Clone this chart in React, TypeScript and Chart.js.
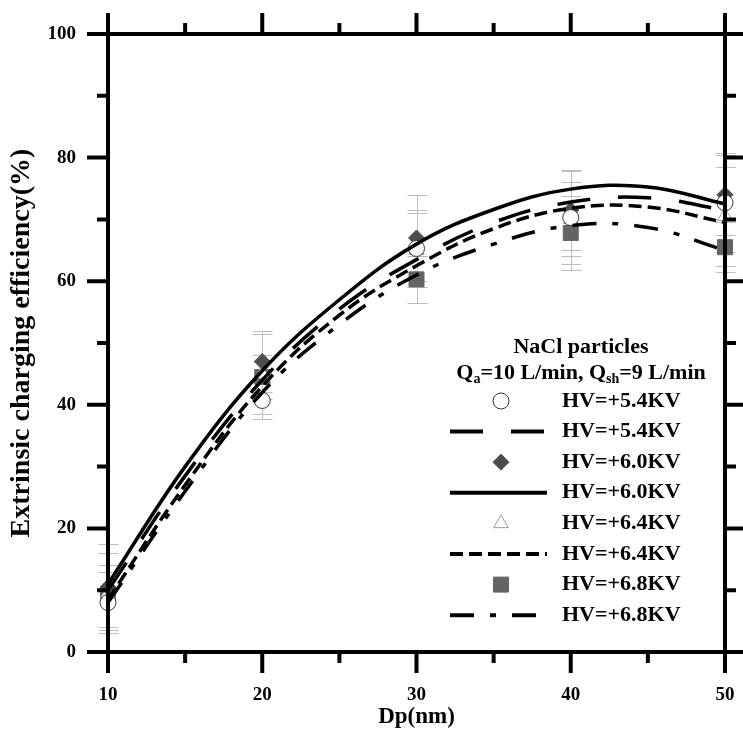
import React, { useEffect, useRef } from 'react';
import { Chart, registerables } from 'chart.js';

Chart.register(...registerables);

// ---------- data ----------
const dpValues = [10, 20, 30, 40, 50];

const seriesLabels = ['HV=+5.4KV', 'HV=+6.0KV', 'HV=+6.4KV', 'HV=+6.8KV'];

const eff54 = [8.0, 40.7, 65.3, 70.3, 72.7];
const eff60 = [10.5, 47.0, 67.0, 71.5, 74.0];
const eff64 = [9.5, 45.0, 65.0, 70.0, 70.5];
const eff68 = [9.0, 44.5, 60.3, 67.8, 65.5];

const err54 = [5.0, 3.0, 6.2, 7.5, 8.0];
const err60 = [7.0, 5.0, 7.0, 6.5, 6.5];
const err64 = [6.5, 6.5, 6.0, 6.0, 8.0];
const err68 = [5.0, 3.5, 3.8, 6.0, 4.0];

const fitX = [10, 15, 20, 25, 30, 35, 40, 45, 50];
const fit54 = [10.0, 28.5, 44.0, 55.5, 63.5, 69.5, 72.8, 73.5, 71.5];
const fit60 = [11.0, 30.0, 45.5, 57.0, 66.0, 71.6, 74.9, 75.25, 72.5];
const fit64 = [8.5, 27.0, 43.0, 54.5, 62.5, 68.5, 71.8, 72.0, 69.5];
const fit68 = [8.0, 26.0, 42.0, 53.0, 61.0, 66.0, 69.0, 68.7, 65.0];

const xTicks = [10, 20, 30, 40, 50];
const xMinorTicks = [15, 25, 35, 45];
const yTicks = [0, 20, 40, 60, 80, 100];
const yMinorTicks = [10, 30, 50, 70, 90];

const legendTitle = 'NaCl particles';
const legendSubtitle: [string, boolean][] = [
  ['Q', false], ['a', true], ['=10 L/min, Q', false], ['sh', true], ['=9 L/min', false],
];

const xTitle = 'Dp(nm)';
const yTitle = 'Extrinsic charging efficiency(%)';

// ---------- styles ----------
const FONT = '"Liberation Serif", "Times New Roman", serif';

const markerStyles = [
  { pointStyle: 'circle', radius: 8, fill: '#ffffff', stroke: '#333333', width: 1 },
  { pointStyle: 'rectRot', radius: 8, fill: '#4d4d4d', stroke: '#4d4d4d', width: 1 },
  { pointStyle: 'triangle', radius: 8.5, fill: '#ffffff', stroke: '#9a9a9a', width: 1 },
  { pointStyle: 'rect', radius: 10.6, fill: '#646464', stroke: '#646464', width: 1 },
];
const lineDashes = [[33, 28], [], [13, 6], [24, 16, 6, 16]];

const seriesValues = [eff54, eff60, eff64, eff68];
const seriesErrors = [err54, err60, err64, err68];
const fitValues = [fit54, fit60, fit64, fit68];

// ---------- plugins ----------
const errorBarPlugin = {
  id: 'errorBars',
  beforeDatasetsDraw(chart: any) {
    const { ctx, scales } = chart;
    const xs = scales.x;
    const ys = scales.y;
    ctx.save();
    ctx.strokeStyle = '#bdbdbd';
    ctx.lineWidth = 1;
    seriesValues.forEach((vals, s) => {
      vals.forEach((v, i) => {
        const e = seriesErrors[s][i];
        const px = Math.round(xs.getPixelForValue(dpValues[i])) + 0.5;
        const yT = Math.round(ys.getPixelForValue(v + e)) + 0.5;
        const yB = Math.round(ys.getPixelForValue(v - e)) + 0.5;
        ctx.beginPath();
        ctx.moveTo(px, yT);
        ctx.lineTo(px, yB);
        ctx.moveTo(px - 10, yT);
        ctx.lineTo(px + 10, yT);
        ctx.moveTo(px - 10, yB);
        ctx.lineTo(px + 10, yB);
        ctx.stroke();
      });
    });
    ctx.restore();
  },
};

const framePlugin = {
  id: 'frame',
  afterDraw(chart: any) {
    const { ctx, chartArea, scales } = chart;
    const { left, right, top, bottom } = chartArea;
    const xs = scales.x;
    const ys = scales.y;
    const major = 21;
    const minor = 11;
    ctx.save();
    ctx.strokeStyle = '#000';
    ctx.lineWidth = 4;
    ctx.lineCap = 'butt';
    ctx.strokeRect(left, top, right - left, bottom - top);
    ctx.beginPath();
    const xt = (v: number, len: number) => {
      const p = xs.getPixelForValue(v);
      ctx.moveTo(p, bottom);
      ctx.lineTo(p, bottom + len);
      ctx.moveTo(p, top);
      ctx.lineTo(p, top - len);
    };
    const yt = (v: number, len: number) => {
      const p = ys.getPixelForValue(v);
      ctx.moveTo(left, p);
      ctx.lineTo(left - len, p);
      ctx.moveTo(right, p);
      ctx.lineTo(right + len, p);
    };
    xTicks.forEach((v) => xt(v, major));
    xMinorTicks.forEach((v) => xt(v, minor));
    yTicks.forEach((v) => yt(v, major));
    yMinorTicks.forEach((v) => yt(v, minor));
    ctx.stroke();
    ctx.restore();
  },
};

function drawMarker(ctx: CanvasRenderingContext2D, style: any, x: number, y: number) {
  const r = style.radius;
  ctx.beginPath();
  if (style.pointStyle === 'circle') {
    ctx.arc(x, y, r, 0, Math.PI * 2);
  } else if (style.pointStyle === 'rectRot') {
    ctx.moveTo(x, y - r);
    ctx.lineTo(x + r, y);
    ctx.lineTo(x, y + r);
    ctx.lineTo(x - r, y);
    ctx.closePath();
  } else if (style.pointStyle === 'triangle') {
    for (let k = 0; k < 3; k++) {
      const a = (k * 2 * Math.PI) / 3;
      const px = x + Math.sin(a) * r;
      const py = y - Math.cos(a) * r;
      if (k === 0) ctx.moveTo(px, py);
      else ctx.lineTo(px, py);
    }
    ctx.closePath();
  } else {
    const s = r * Math.SQRT1_2;
    ctx.rect(x - s, y - s, 2 * s, 2 * s);
  }
  ctx.fillStyle = style.fill;
  ctx.fill();
  ctx.strokeStyle = style.stroke;
  ctx.lineWidth = style.width;
  ctx.stroke();
}

const legendPlugin = {
  id: 'customLegend',
  afterDraw(chart: any) {
    const ctx: CanvasRenderingContext2D = chart.ctx;
    ctx.save();
    ctx.fillStyle = '#000';
    ctx.textBaseline = 'middle';
    const mainFont = `bold 22px ${FONT}`;
    const subFont = `bold 14px ${FONT}`;
    const cx = 581;
    ctx.font = mainFont;
    ctx.textAlign = 'center';
    ctx.fillText(legendTitle, cx, 347);

    ctx.textAlign = 'left';
    let total = 0;
    legendSubtitle.forEach(([t, sub]) => {
      ctx.font = sub ? subFont : mainFont;
      total += ctx.measureText(t).width;
    });
    let x = cx - total / 2;
    legendSubtitle.forEach(([t, sub]) => {
      ctx.font = sub ? subFont : mainFont;
      ctx.fillText(t, x, sub ? 379 : 373);
      x += ctx.measureText(t).width;
    });

    const rowY0 = 401;
    const rowStep = 30.6;
    const symX = 501;
    const lineX0 = 450;
    const lineX1 = 547;
    const textX = 562;
    let row = 0;
    seriesLabels.forEach((label, s) => {
      let cy = rowY0 + row * rowStep;
      drawMarker(ctx, markerStyles[s], symX, cy);
      ctx.fillStyle = '#000';
      ctx.font = mainFont;
      ctx.textAlign = 'left';
      ctx.fillText(label, textX, cy);
      row++;
      cy = rowY0 + row * rowStep;
      ctx.beginPath();
      ctx.setLineDash(lineDashes[s]);
      ctx.strokeStyle = '#000';
      ctx.lineWidth = 4;
      ctx.lineCap = 'butt';
      ctx.moveTo(lineX0, cy);
      ctx.lineTo(lineX1, cy);
      ctx.stroke();
      ctx.setLineDash([]);
      ctx.fillText(label, textX, cy);
      row++;
    });
    ctx.restore();
  },
};

export default function App() {
  const canvasRef = useRef<HTMLCanvasElement | null>(null);

  useEffect(() => {
    const canvas = canvasRef.current;
    if (!canvas) return;

    const scatterSets = seriesValues.map((vals, s) => ({
      type: 'scatter' as const,
      label: seriesLabels[s],
      data: dpValues.map((x, i) => ({ x, y: vals[i] })),
      showLine: false,
      pointStyle: markerStyles[s].pointStyle,
      pointRadius: markerStyles[s].radius,
      pointBackgroundColor: markerStyles[s].fill,
      pointBorderColor: markerStyles[s].stroke,
      pointBorderWidth: markerStyles[s].width,
      order: 2,
      clip: false as any,
    }));

    const fitSets = fitValues.map((vals, s) => ({
      type: 'line' as const,
      label: seriesLabels[s] + ' fit',
      data: fitX.map((x, i) => ({ x, y: vals[i] })),
      showLine: true,
      borderColor: '#000',
      borderWidth: 3.5,
      borderDash: lineDashes[s],
      borderCapStyle: 'butt' as const,
      pointRadius: 0,
      tension: 0.4,
      fill: false,
      order: 1,
      clip: false as any,
    }));

    const tickFont = { family: FONT, size: 19, weight: 'bold' as const };

    const chart = new Chart(canvas, {
      type: 'scatter',
      data: { datasets: [...scatterSets, ...fitSets] as any },
      options: {
        responsive: false,
        animation: false,
        events: [],
        layout: { padding: 0 },
        plugins: {
          legend: { display: false },
          tooltip: { enabled: false },
        },
        scales: {
          x: {
            type: 'linear',
            position: 'bottom',
            min: 10,
            max: 50,
            afterFit: (scale: any) => {
              scale.height = 77;
              scale.paddingLeft = 0;
              scale.paddingRight = 0;
            },
            afterBuildTicks: (scale: any) => { scale.ticks = xTicks.map((v) => ({ value: v })); },
            ticks: { font: tickFont, color: '#000', padding: 32, maxRotation: 0 },
            grid: { display: false, drawTicks: false },
            border: { display: false },
            title: {
              display: true, text: xTitle, color: '#000',
              font: { family: FONT, size: 23, weight: 'bold', lineHeight: 1.0 },
              padding: { top: 0, bottom: 0 },
            },
          },
          x2: {
            type: 'linear',
            position: 'top',
            min: 10,
            max: 50,
            afterFit: (scale: any) => {
              scale.height = 34;
              scale.paddingLeft = 0;
              scale.paddingRight = 0;
            },
            ticks: { display: false },
            grid: { display: false, drawTicks: false },
            border: { display: false },
          },
          y: {
            type: 'linear',
            position: 'left',
            min: 0,
            max: 100,
            afterFit: (scale: any) => {
              scale.width = 108;
              scale.paddingTop = 0;
              scale.paddingBottom = 0;
            },
            afterBuildTicks: (scale: any) => { scale.ticks = yTicks.map((v) => ({ value: v })); },
            ticks: { font: tickFont, color: '#000', padding: 32 },
            grid: { display: false, drawTicks: false },
            border: { display: false },
            title: {
              display: true, text: yTitle, color: '#000',
              font: { family: FONT, size: 28, weight: 'bold', lineHeight: 1.0 },
              padding: { top: 8, bottom: 0 },
            },
          },
          y2: {
            type: 'linear',
            position: 'right',
            min: 0,
            max: 100,
            afterFit: (scale: any) => {
              scale.width = 18;
              scale.paddingTop = 0;
              scale.paddingBottom = 0;
            },
            ticks: { display: false },
            grid: { display: false, drawTicks: false },
            border: { display: false },
          },
        },
      } as any,
      plugins: [errorBarPlugin, framePlugin, legendPlugin],
    });

    return () => chart.destroy();
  }, []);

  return (
    <div style={{ position: 'absolute', left: 0, top: 0, width: 743, height: 729, background: '#fff' }}>
      <canvas ref={canvasRef} width={743} height={729} style={{ display: 'block' }} />
    </div>
  );
}
